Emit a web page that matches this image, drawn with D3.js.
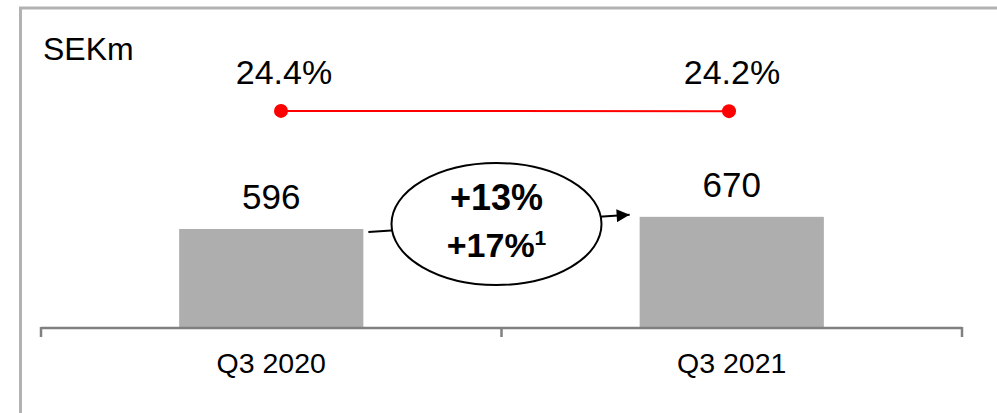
<!DOCTYPE html>
<html>
<head>
<meta charset="utf-8">
<script src="https://cdn.jsdelivr.net/npm/d3@7/dist/d3.min.js"></script>
<style>
    html, body { margin: 0; padding: 0; background: #fff; }
    svg text { font-family: "Liberation Sans", Arial, sans-serif; fill: #000; }
</style>
</head>
<body>
<div id="chart"></div>
<script>
const categories = ['Q3 2020', 'Q3 2021']
const sales      = [596, 670]
const margins    = [24.4, 24.2]
const growth     = ['+13%', '+17%']
const unitLabel  = 'SEKm'

const WIDTH  = 997
const HEIGHT = 413

const svg = d3.select('#chart').append('svg')
    .attr('width', WIDTH)
    .attr('height', HEIGHT)

// frame, only top and left edges are in view
svg.append('rect')
    .attr('x', 20.5)
    .attr('y', 8)
    .attr('width', WIDTH + 20)
    .attr('height', HEIGHT + 20)
    .attr('fill', 'none')
    .attr('stroke', '#b2b2b2')
    .attr('stroke-width', 3)

svg.append('text')
    .attr('x', 43)
    .attr('y', 60)
    .attr('font-size', 32)
    .text(unitLabel)

const x = d3.scaleBand()
    .domain(categories)
    .range([41, 962])
    .paddingInner(0.6)
    .paddingOuter(0.3)

const xAxisScale = d3.scaleBand()
    .domain(categories)
    .range([41, 962])

const y = d3.scaleLinear()
    .domain([0, 700])
    .range([327, 211.9])

// margin line sits on its own scale above the bars
const xm = d3.scalePoint()
    .domain(categories)
    .range([281, 729])

const ym = d3.scaleLinear()
    .domain([0, 100])
    .range([138, 27])

const bars = svg.append('g')

bars.selectAll('rect')
    .data(categories)
    .join('rect')
    .attr('x', d => x(d))
    .attr('y', (d, i) => y(sales[i]))
    .attr('width', x.bandwidth())
    .attr('height', (d, i) => y(0) - y(sales[i]))
    .attr('fill', '#aeaeae')

bars.selectAll('text')
    .data(categories)
    .join('text')
    .attr('x', d => x(d) + x.bandwidth() / 2)
    .attr('y', (d, i) => y(sales[i]) - 20)
    .attr('text-anchor', 'middle')
    .attr('font-size', 35)
    .text((d, i) => sales[i])

// axis: ticks at band edges
const axis = svg.append('g')
const edges = categories.map(d => xAxisScale(d)).concat([xAxisScale.range()[1]])

axis.append('line')
    .attr('x1', xAxisScale.range()[0])
    .attr('x2', xAxisScale.range()[1])
    .attr('y1', y(0) + 1)
    .attr('y2', y(0) + 1)
    .attr('stroke', '#808080')
    .attr('stroke-width', 2.5)

axis.selectAll('.tick')
    .data(edges)
    .join('line')
    .attr('class', 'tick')
    .attr('x1', d => d)
    .attr('x2', d => d)
    .attr('y1', y(0))
    .attr('y2', y(0) + 10)
    .attr('stroke', '#808080')
    .attr('stroke-width', 2.5)

axis.selectAll('text')
    .data(categories)
    .join('text')
    .attr('x', d => xAxisScale(d) + xAxisScale.bandwidth() / 2)
    .attr('y', 373)
    .attr('text-anchor', 'middle')
    .attr('font-size', 28.5)
    .text(d => d)

// margin line
const line = d3.line()
    .x(d => xm(d.cat))
    .y(d => ym(d.value))

const marginData = categories.map((c, i) => ({ cat: c, value: margins[i] }))

svg.append('path')
    .datum(marginData)
    .attr('d', line)
    .attr('fill', 'none')
    .attr('stroke', '#ff0000')
    .attr('stroke-width', 2)

svg.selectAll('.dot')
    .data(marginData)
    .join('circle')
    .attr('class', 'dot')
    .attr('cx', d => xm(d.cat))
    .attr('cy', d => ym(d.value))
    .attr('r', 7)
    .attr('fill', '#ff0000')

svg.selectAll('.mlabel')
    .data(marginData)
    .join('text')
    .attr('class', 'mlabel')
    .attr('x', d => xm(d.cat) + 3)
    .attr('y', d => ym(d.value) - 27)
    .attr('text-anchor', 'middle')
    .attr('font-size', 34)
    .text(d => d.value.toFixed(1) + '%')

// growth arrow with ellipse on top
svg.append('defs').append('marker')
    .attr('id', 'arrow')
    .attr('viewBox', '0 0 10 10')
    .attr('refX', 10)
    .attr('refY', 5)
    .attr('markerWidth', 8.5)
    .attr('markerHeight', 6.5)
    .attr('markerUnits', 'strokeWidth')
    .attr('orient', 'auto')
    .append('path')
    .attr('d', 'M0,0L10,5L0,10Z')
    .attr('fill', '#000')

const x0 = x(categories[0]) + x.bandwidth()
const x1 = x(categories[1])

svg.append('line')
    .attr('x1', x0 + 5)
    .attr('y1', y(sales[0]) + 3)
    .attr('x2', x1 - 10)
    .attr('y2', y(sales[1]) - 2)
    .attr('stroke', '#000')
    .attr('stroke-width', 2)
    .attr('marker-end', 'url(#arrow)')

const cx = (x0 + x1) / 2 - 5

svg.append('ellipse')
    .attr('cx', cx)
    .attr('cy', 224)
    .attr('rx', 105)
    .attr('ry', 61)
    .attr('fill', '#fff')
    .attr('stroke', '#000')
    .attr('stroke-width', 2)

svg.append('text')
    .attr('x', cx)
    .attr('y', 210)
    .attr('text-anchor', 'middle')
    .attr('font-size', 36)
    .attr('font-weight', 'bold')
    .text(growth[0])

const second = svg.append('text')
    .attr('x', cx)
    .attr('y', 257)
    .attr('text-anchor', 'middle')
    .attr('font-size', 34)
    .attr('font-weight', 'bold')

second.append('tspan').text(growth[1])
second.append('tspan')
    .attr('font-size', 21)
    .attr('dy', -12)
    .text('1')
</script>
</body>
</html>
